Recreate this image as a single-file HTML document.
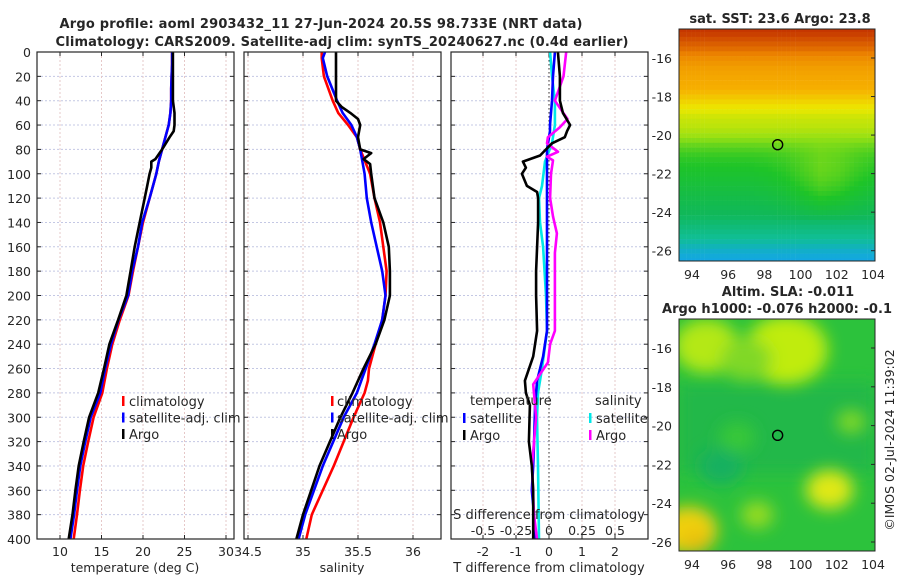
<!DOCTYPE html>
<html><head><meta charset="utf-8"><style>
body{margin:0;background:#fff}
svg{display:block;font-family:"DejaVu Sans","Liberation Sans",sans-serif}
</style></head><body>
<svg id="c" width="900" height="580" xmlns="http://www.w3.org/2000/svg"></svg>
<script>
// ---------- DATA ----------
const tDepth=[0,10,20,30,40,50,60,70,80,90,100,110,120,140,160,180,200,220,240,260,280,300,320,340,360,380,400];
const tClim=[23.5,23.5,23.45,23.4,23.4,23.3,23.1,22.7,22.3,21.9,21.6,21.2,20.8,20.0,19.4,18.8,18.25,17.2,16.3,15.65,15.1,14.05,13.4,12.8,12.4,12.05,11.65];
const tSat=[23.5,23.5,23.45,23.4,23.4,23.3,23.1,22.7,22.3,21.9,21.6,21.2,20.8,19.9,19.4,18.7,18.2,17.05,16.15,15.45,14.86,13.7,13.05,12.45,12.05,11.7,11.25];
const argoDepth=[0,20,40,50,60,65,70,80,88,90,95,100,110,120,130,140,160,180,200,220,240,260,280,300,320,340,360,380,400];
const tArgo=[23.6,23.6,23.6,23.8,23.8,23.7,23.2,22.3,21.5,21.0,21.0,20.8,20.5,20.2,19.9,19.6,19.0,18.5,18.0,17.0,15.95,15.3,14.6,13.5,12.85,12.25,11.85,11.5,11.05];
const sDepth=[0,5,20,40,50,60,70,80,100,120,140,160,180,200,220,240,260,270,280,300,340,380,400];
const sClim=[35.17,35.17,35.19,35.27,35.32,35.41,35.49,35.52,35.61,35.65,35.70,35.73,35.76,35.75,35.72,35.66,35.60,35.59,35.56,35.46,35.28,35.08,35.03];
const sSat=[35.20,35.18,35.22,35.31,35.36,35.44,35.49,35.52,35.56,35.58,35.62,35.67,35.72,35.75,35.72,35.65,35.57,35.53,35.49,35.37,35.18,35.02,34.96];
const sArgoDepth=[0,20,40,45,50,55,60,70,80,83,88,92,100,120,140,160,180,200,220,240,260,270,280,300,340,380,400];
const sArgo=[35.30,35.30,35.30,35.35,35.43,35.50,35.52,35.50,35.52,35.62,35.55,35.61,35.62,35.65,35.73,35.78,35.79,35.79,35.74,35.66,35.55,35.50,35.45,35.34,35.15,35.00,34.94];
// differences
const dDepth=[0,20,40,50,60,65,70,75,80,85,90,95,100,110,115,120,140,160,180,200,229,250,270,280,290,320,340,360,380,400];
const dTArgo=[0.27,0.33,0.33,0.42,0.64,0.55,0.48,0.09,-0.09,-0.27,-0.79,-0.70,-0.82,-0.67,-0.36,-0.33,-0.33,-0.36,-0.39,-0.39,-0.36,-0.48,-0.73,-0.70,-0.58,-0.61,-0.52,-0.48,-0.48,-0.48];
const dTSat=[0.18,0.12,0.09,0.06,0.03,0.03,0.0,-0.03,-0.06,-0.06,-0.06,-0.06,-0.06,-0.06,-0.06,-0.06,-0.06,-0.06,-0.06,-0.06,-0.06,-0.18,-0.36,-0.39,-0.42,-0.45,-0.48,-0.52,-0.45,-0.42];
const dSDepth=[0,20,40,60,75,90,110,120,140,160,200,229,260,280,300,340,400];
const dSSat=[0.008,0.023,0.045,0.045,0.023,-0.030,-0.053,-0.076,-0.068,-0.045,-0.023,-0.015,-0.053,-0.083,-0.091,-0.083,-0.076];
const dSArgoDepth=[0,20,40,55,62,70,75,82,86,89,100,120,135,149,165,229,240,255,273,300,340,380,400];
const dSArgo=[0.13,0.11,0.045,0.14,0.08,-0.008,-0.015,0.068,-0.015,0.03,0.015,0.008,0.03,0.06,0.045,0.045,0.008,-0.008,-0.12,-0.098,-0.129,-0.114,-0.091];
// SST map data
const sstLat=[-14.5,-15,-15.5,-16,-16.5,-17,-17.5,-18,-18.5,-19,-19.5,-20,-20.5,-21,-21.5,-22,-22.5,-23,-23.5,-24,-24.5,-25,-25.5,-26,-26.5];
const sstVal=[25.7,25.5,25.3,25.0,24.8,24.7,24.6,24.3,24.0,23.8,23.7,23.5,23.2,23.0,22.9,22.8,22.7,22.6,22.5,22.4,22.2,22.0,21.8,21.6,21.5];
const sstLon=[93,94,95,96,97,98,99,100,101,102,103,104,105];
const sstLonAdj=[0,0,0,0,0,0.05,0.15,0.35,0.55,0.45,0.25,0.1,0.1];
// SLA blobs
const slaLon=[93.8,94.8,99.2,101.6,97.6,95.6,102.8,96.5,94.2,97.0];
const slaLat=[-25.4,-15.9,-16.1,-23.3,-24.6,-22.1,-19.8,-20.6,-26.0,-16.6];
const slaR=[1.6,1.8,2.3,1.3,0.9,1.2,0.8,1.0,0.8,1.4];
const slaCol=["#f0d010","#b4e818","#c0ec10","#e0e818","#98dc20","#14b060","#80d828","#38c838","#e8c010","#80d828"];

// ---------- HELPERS ----------
const NS="http://www.w3.org/2000/svg";
const svg=document.getElementById('c');
function el(tag,attrs,parent){const e=document.createElementNS(NS,tag);for(const k in attrs)e.setAttribute(k,attrs[k]);(parent||svg).appendChild(e);return e;}
function txt(x,y,s,size,anchor,weight,parent){const t=el('text',{x:x,y:y,'font-size':size,'text-anchor':anchor||'middle','font-weight':weight||'normal',fill:'#262626'},parent);t.textContent=s;return t;}
const Y0=52,Y1=539;
function py(d){return Y0+d*(Y1-Y0)/400;}
function tx(t){return 60+(t-10)*8.3;}
function sx(s){return 303+(s-35)*110;}
function dtx(v){return 549+v*33;}
function dsx(v){return 549+v*132;}
function line(xs,ds,fx,color,name,w){
  let p='';for(let i=0;i<xs.length;i++){p+=(i?'L':'M')+fx(xs[i]).toFixed(1)+','+py(ds[i]).toFixed(1);}
  const e=el('path',{d:p,fill:'none',stroke:color,'stroke-width':w||2.6,'stroke-linejoin':'round'});
  
  
  return e;
}
function panel(x0,x1,xticks,fx,name){
  const g=el('g',{});
  
  
  el('rect',{x:x0,y:Y0,width:x1-x0,height:Y1-Y0,fill:'#fff'},g);
  for(let d=20;d<400;d+=20){el('line',{x1:x0,x2:x1,y1:py(d),y2:py(d),stroke:'#c4c8e4','stroke-width':1,'stroke-dasharray':'2,2'},g);}
  xticks.forEach(v=>{const x=fx(v);el('line',{x1:x,x2:x,y1:Y0,y2:Y1,stroke:'#e6c8c8','stroke-width':1,'stroke-dasharray':'2,2'},g);
    el('line',{x1:x,x2:x,y1:Y1,y2:Y1-4,stroke:'#262626'},g);el('line',{x1:x,x2:x,y1:Y0,y2:Y0+4,stroke:'#262626'},g);});
  for(let d=0;d<=400;d+=20){el('line',{x1:x0,x2:x0+4,y1:py(d),y2:py(d),stroke:'#262626'},g);el('line',{x1:x1,x2:x1-4,y1:py(d),y2:py(d),stroke:'#262626'},g);}
  return g;
}
const FS=12.5;

// ---------- TITLES ----------
let t=txt(321,28,'Argo profile: aoml 2903432_11 27-Jun-2024 20.5S 98.733E (NRT data)',13,'middle','bold');
t.setAttribute('textLength',523);

t=txt(342,46,'Climatology: CARS2009. Satellite-adj clim: synTS_20240627.nc (0.4d earlier)',13,'middle','bold');
t.setAttribute('textLength',573);


// ---------- PANEL 1 TEMPERATURE ----------
panel(37,234,[10,15,20,25,30],tx,'temperature-panel');
line(tClim,tDepth,tx,'#ff0000','temp-climatology-line');
line(tSat,tDepth,tx,'#0000ff','temp-satellite-line');
line(tArgo,argoDepth,tx,'#000000','temp-argo-line');
el('rect',{x:37,y:Y0,width:197,height:Y1-Y0,fill:'none',stroke:'#262626','stroke-width':1.2});
for(let d=0;d<=400;d+=20){const l=txt(31,py(d)+5,String(d),FS,'end');}
[10,15,20,25,30].forEach(v=>{const l=txt(tx(v),556,String(v),FS);});
t=txt(135,572,'temperature (deg C)',FS);
[['#ff0000','climatology'],['#0000ff','satellite-adj. clim'],['#000000','Argo']].forEach((e,i)=>{
  el('rect',{x:122,y:396+i*16.5,width:2.5,height:10,fill:e[0]});
  const l=txt(129,406+i*16.5,e[1],13,'start');});

// ---------- PANEL 2 SALINITY ----------
panel(244,441,[34.5,35,35.5,36],sx,'salinity-panel');
line(sClim,sDepth,sx,'#ff0000','sal-climatology-line');
line(sSat,sDepth,sx,'#0000ff','sal-satellite-line');
line(sArgo,sArgoDepth,sx,'#000000','sal-argo-line');
el('rect',{x:244,y:Y0,width:197,height:Y1-Y0,fill:'none',stroke:'#262626','stroke-width':1.2});
[34.5,35,35.5,36].forEach(v=>{const l=txt(sx(v),556,String(v),FS);});
t=txt(342,572,'salinity',FS);
[['#ff0000','climatology'],['#0000ff','satellite-adj. clim'],['#000000','Argo']].forEach((e,i)=>{
  el('rect',{x:331,y:396+i*16.5,width:2.5,height:10,fill:e[0]});
  const l=txt(337,406+i*16.5,e[1],13,'start');});

// ---------- PANEL 3 DIFFERENCES ----------
panel(451,648,[-2,-1,0,1,2],dtx,'difference-panel');
el('line',{x1:549,x2:549,y1:Y0,y2:Y1,stroke:'#333','stroke-width':1,'stroke-dasharray':'1.5,2.5'});
line(dSSat,dSDepth,dsx,'#00e8e8','sdiff-satellite-line');
line(dTSat,dDepth,dtx,'#0000ff','tdiff-satellite-line');
line(dSArgo,dSArgoDepth,dsx,'#ff00ff','sdiff-argo-line');
line(dTArgo,dDepth,dtx,'#000000','tdiff-argo-line');
el('rect',{x:451,y:Y0,width:197,height:Y1-Y0,fill:'none',stroke:'#262626','stroke-width':1.2});
[-2,-1,0,1,2].forEach(v=>{const l=txt(dtx(v),556,String(v),FS);});
['-0.5','-0.25','0','0.25','0.5'].forEach(v=>{const l=txt(dsx(parseFloat(v)),535,v,FS);});
t=txt(549,519,'S difference from climatology',13);
t=txt(549,572,'T difference from climatology',13);
t=txt(470,405,'temperature',13,'start');
t=txt(595,405,'salinity',13,'start');
[['#0000ff','satellite',463],['#000000','Argo',463],['#00e8e8','satellite',589],['#ff00ff','Argo',589]].forEach((e,i)=>{
  const yy=413+(i%2)*17;
  el('rect',{x:e[2],y:yy,width:2.5,height:10,fill:e[0]});
  const l=txt(e[2]+7,yy+10,e[1],13,'start');});

// ---------- MAPS ----------
const MX0=679,MX1=875;
function lonx(l){return 692+(l-94)*18.1;}
const stops=[[21.4,[20,160,250]],[21.9,[16,190,150]],[22.4,[16,184,90]],[22.9,[30,196,40]],[23.5,[150,224,20]],[24.0,[236,232,0]],[24.6,[246,176,0]],[25.2,[236,130,0]],[25.8,[190,40,0]]];
function cmap(v){if(v<=stops[0][0])return stops[0][1];for(let i=1;i<stops.length;i++){if(v<=stops[i][0]){const a=stops[i-1],b=stops[i],f=(v-a[0])/(b[0]-a[0]);return a[1].map((c,k)=>Math.round(c+(b[1][k]-c)*f));}}return stops[stops.length-1][1];}
function interp(xs,ys,x){if(x<=xs[0])return ys[0];for(let i=1;i<xs.length;i++){if(x<=xs[i]){const f=(x-xs[i-1])/(xs[i]-xs[i-1]);return ys[i-1]+(ys[i]-ys[i-1])*f;}}return ys[ys.length-1];}
function interpDesc(xs,ys,x){if(x>=xs[0])return ys[0];for(let i=1;i<xs.length;i++){if(x>=xs[i]){const f=(x-xs[i-1])/(xs[i]-xs[i-1]);return ys[i-1]+(ys[i]-ys[i-1])*f;}}return ys[ys.length-1];}
// SST
const sstG=el('g',{});


const SY0=29,SY1=261;
function latYs(l){return 58+(-16-l)*19.27;}
const defs=el('defs',{});
const cs=el('clipPath',{id:'cs'},defs);el('rect',{x:MX0,y:SY0,width:MX1-MX0,height:SY1-SY0},cs);
const cells=el('g',{'clip-path':'url(#cs)'},sstG);
for(let la=-14.4;la>-26.6;la-=0.25){
  for(let lo=93.2;lo<104.3;lo+=0.25){
    let v=interpDesc(sstLat,sstVal,la);
    let w=0; if(la<-20&&la>-24.5){w=Math.sin(Math.PI*(-20-la)/4.5);}
    v+=interp(sstLon,sstLonAdj,lo)*w*0.8;
    const c=cmap(v);
    el('rect',{x:lonx(lo).toFixed(1),y:latYs(la).toFixed(1),width:4.8,height:5.1,fill:'rgb('+c.join(',')+')'},cells);
  }
}
el('rect',{x:MX0,y:SY0,width:MX1-MX0,height:SY1-SY0,fill:'none',stroke:'#262626','stroke-width':1},sstG);
const sc=el('circle',{cx:lonx(98.733),cy:latYs(-20.5),r:5,fill:'none',stroke:'#000','stroke-width':1.4});

[-16,-18,-20,-22,-24,-26].forEach(l=>{const l2=txt(672,latYs(l)+5,String(l),FS,'end');
  el('line',{x1:MX1,x2:MX1-4,y1:latYs(l),y2:latYs(l),stroke:'#262626'});});
[94,96,98,100,102,104].forEach(l=>{const l2=txt(lonx(l),279,String(l),FS);});
t=txt(780,23,'sat. SST: 23.6 Argo: 23.8',13,'middle','bold');

// SLA
const slaG=el('g',{});


const AY0=319,AY1=551;
function latYa(l){return 348+(-16-l)*19.4;}
const cp=el('clipPath',{id:'ca'},defs);el('rect',{x:MX0,y:AY0,width:MX1-MX0,height:AY1-AY0},cp);
const fl=el('filter',{id:'bl',x:'-50%',y:'-50%',width:'200%',height:'200%'},defs);el('feGaussianBlur',{stdDeviation:8},fl);
const ag=el('g',{'clip-path':'url(#ca)'},slaG);
el('rect',{x:MX0,y:AY0,width:MX1-MX0,height:AY1-AY0,fill:'#2cc23c'},ag);
el('rect',{x:MX0,y:latYa(-17.8),width:MX1-MX0,height:90,fill:'#20b84a',filter:'url(#bl)'},ag);
const bg=el('g',{filter:'url(#bl)'},ag);
for(let i=0;i<slaLon.length;i++){
  const b=el('ellipse',{cx:lonx(slaLon[i]),cy:latYa(slaLat[i]),rx:slaR[i]*18.1,ry:slaR[i]*15,fill:slaCol[i]},bg);
  
  
}
el('rect',{x:MX0,y:AY0,width:MX1-MX0,height:AY1-AY0,fill:'none',stroke:'#262626','stroke-width':1},slaG);
const ac=el('circle',{cx:lonx(98.733),cy:latYa(-20.5),r:5,fill:'none',stroke:'#000','stroke-width':1.4});

[-16,-18,-20,-22,-24,-26].forEach(l=>{const l2=txt(672,latYa(l)+5,String(l),FS,'end');
  el('line',{x1:MX1,x2:MX1-4,y1:latYa(l),y2:latYa(l),stroke:'#262626'});});
[94,96,98,100,102,104].forEach(l=>{const l2=txt(lonx(l),569,String(l),FS);});
t=txt(788,296,'Altim. SLA: -0.011',13,'middle','bold');
t=txt(777,313,'Argo h1000: -0.076 h2000: -0.1',13,'middle','bold');t.setAttribute('textLength',230);

t=el('text',{x:0,y:0,'font-size':12.5,'text-anchor':'middle',fill:'#262626',transform:'translate(894,440) rotate(-90)'});
t.textContent='©IMOS 02-Jul-2024 11:39:02';


</script>
</body></html>
